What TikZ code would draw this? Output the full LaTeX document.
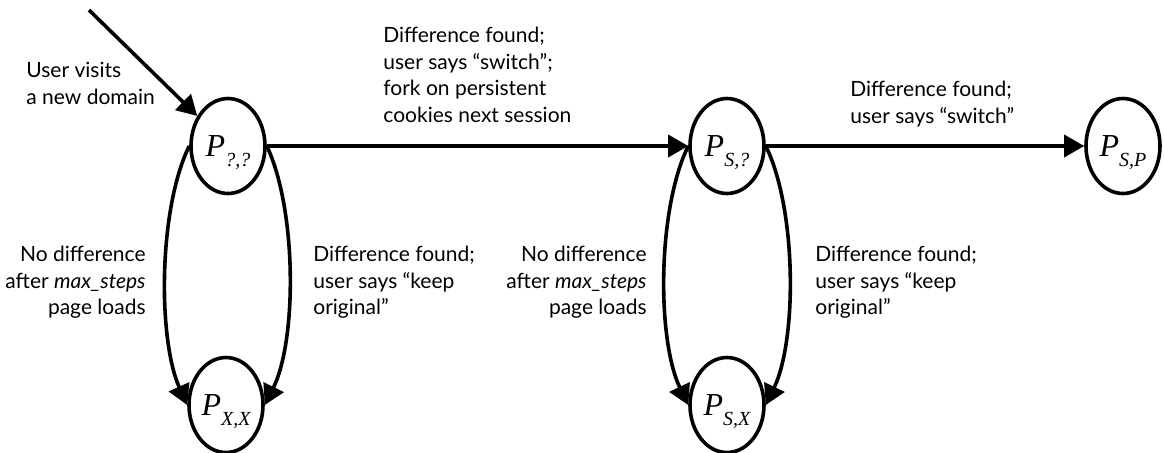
\documentclass[tikz,border=0pt]{standalone}
\usepackage{fontspec}
\setmainfont{Lato}
\newfontfamily\statefont{Liberation Serif}
\usetikzlibrary{shapes.geometric,arrows.meta}

\newlength{\du}
\setlength{\du}{0.5pt}

% state name: P with a lowered subscript
\newcommand{\stname}[1]{{\statefont\itshape\fontsize{16}{16}\selectfont P\raisebox{-5pt}[0pt][0pt]{\fontsize{10}{10}\selectfont #1}}}

\tikzset{
  state/.style={ellipse,draw,line width=1.8pt,minimum width=74\du,minimum height=95\du,inner sep=0pt},
  edge/.style={line width=1.8pt,-{Triangle[length=10pt,width=11pt]}},
  lbl/.style={inner sep=0pt,font=\fontsize{10.5}{13.25}\selectfont},
}

\begin{document}
\begin{tikzpicture}
\pgftransformyscale{-1}
\useasboundingbox (0\du,0\du) rectangle (1164\du,452\du);
\definecolor{dialinecolor}{rgb}{0.000000, 0.000000, 0.000000}
\pgfsetstrokecolor{dialinecolor}
% states
\node[state] (pqq) at (228\du,146\du) {\stname{?,?}};
\node[state] (pxx) at (226\du,405\du) {\stname{X,X}};
\node[state] (psq) at (727\du,146\du) {\stname{S,?}};
\node[state] (psx) at (727\du,405\du) {\stname{S,X}};
\node[state] (psp) at (1123\du,146\du) {\stname{S,P}};
% entry
\coordinate (entry) at (89\du,10\du);
\draw[edge] (entry) -- (pqq);
\node[lbl,anchor=north west,align=left] (visit) at (26\du,62\du) {User visits\\a new domain};
% along the top
\draw[edge] (pqq.east) -- (psq.west);
\node[lbl,anchor=north west,align=left] (switch1) at (383\du,27\du) {Difference found;\\user says “switch”;\\fork on persistent\\cookies next session};
\draw[edge] (psq.east) -- (psp.west);
\node[lbl,anchor=north west,align=left] (switch2) at (850\du,81\du) {Difference found;\\user says “switch”};
% first pair of loops
\draw[edge] (pqq.west) .. controls (158\du,210\du) and (158\du,340\du) .. (pxx.west);
\draw[edge] (pqq.east) .. controls (297\du,210\du) and (297\du,340\du) .. (pxx.east);
\node[lbl,anchor=north east,align=right] (nodiff1) at (146\du,246\du) {No difference\\after \textit{max\_steps}\\page loads};
\node[lbl,anchor=north west,align=left] (keep1) at (313\du,246\du) {Difference found;\\user says “keep\\original”};
% second pair of loops
\draw[edge] (psq.west) .. controls (657\du,210\du) and (657\du,340\du) .. (psx.west);
\draw[edge] (psq.east) .. controls (797\du,210\du) and (797\du,340\du) .. (psx.east);
\node[lbl,anchor=north east,align=right] (nodiff2) at (647\du,246\du) {No difference\\after \textit{max\_steps}\\page loads};
\node[lbl,anchor=north west,align=left] (keep2) at (815\du,246\du) {Difference found;\\user says “keep\\original”};
\end{tikzpicture}
\end{document}
